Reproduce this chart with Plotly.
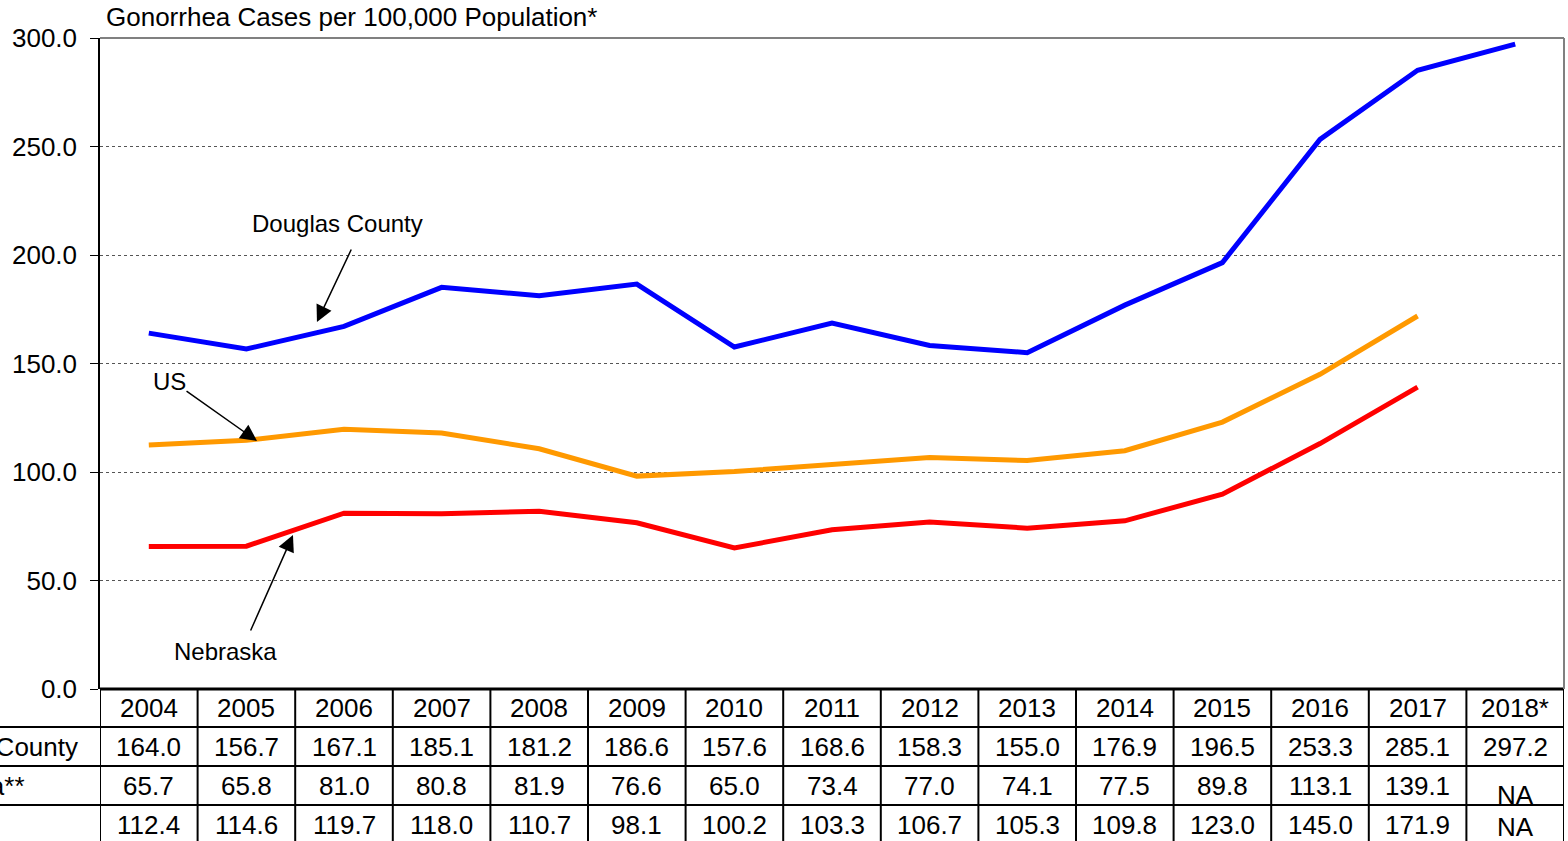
import plotly.graph_objects as go

# données
years = ["2004", "2005", "2006", "2007", "2008", "2009", "2010", "2011",
         "2012", "2013", "2014", "2015", "2016", "2017", "2018*"]
douglas = [164.0, 156.7, 167.1, 185.1, 181.2, 186.6, 157.6, 168.6,
           158.3, 155.0, 176.9, 196.5, 253.3, 285.1, 297.2]
nebraska = [65.7, 65.8, 81.0, 80.8, 81.9, 76.6, 65.0, 73.4,
            77.0, 74.1, 77.5, 89.8, 113.1, 139.1, None]
us = [112.4, 114.6, 119.7, 118.0, 110.7, 98.1, 100.2, 103.3,
      106.7, 105.3, 109.8, 123.0, 145.0, 171.9, None]
row_labels = ["Douglas County", "Nebraska**", "US"]

FONT = "Arial, Liberation Sans, sans-serif"
W, H = 1568, 841
L, R, T, B = 100, 4, 38, 152
PW = W - L - R
PH = H - T - B  # hauteur de la zone de tracé


def py(p):
    # pixel vertical -> coordonnée paper
    return (H - B - p) / PH


xs = list(range(len(years)))

fig = go.Figure()

for name, vals, col in [("Douglas County", douglas, "#0000FF"),
                        ("Nebraska", nebraska, "#FF0000"),
                        ("US", us, "#FF9900")]:
    fig.add_trace(go.Scatter(
        x=xs, y=vals, mode="lines", name=name,
        line=dict(color=col, width=5), connectgaps=False,
        showlegend=False
    ))

# -----------------------------------------------------------
# tableau sous le graphique
# -----------------------------------------------------------
row_y = [708, 747, 786, 825]
lines_y = [727, 766, 805]
shapes = []
shapes.append(dict(type="line", xref="paper", yref="paper", x0=0, x1=1,
                   y0=0, y1=0, line=dict(color="black", width=3)))
for ly in lines_y:
    shapes.append(dict(type="line", xref="paper", yref="paper",
                       x0=-L / PW, x1=1, y0=py(ly), y1=py(ly),
                       line=dict(color="black", width=2)))
for i in range(len(years) + 1):
    shapes.append(dict(type="line", xref="x", yref="paper",
                       x0=i - 0.5, x1=i - 0.5, y0=0, y1=py(H + 5),
                       line=dict(color="black", width=2)))
# cadre gris de la zone de tracé
shapes.append(dict(type="line", xref="paper", yref="paper", x0=0, x1=1,
                   y0=1, y1=1, line=dict(color="#808080", width=2)))
shapes.append(dict(type="line", xref="paper", yref="paper", x0=1, x1=1,
                   y0=0, y1=1, line=dict(color="#808080", width=2)))

ann = []
for i, yr in enumerate(years):
    ann.append(dict(x=i, y=py(row_y[0]), xref="x", yref="paper", text=yr,
                    yanchor="middle", showarrow=False, font=dict(size=26)))
    for r, vals in enumerate([douglas, nebraska, us]):
        v = vals[i]
        txt = "NA" if v is None else f"{v:.1f}"
        yy = row_y[r + 1] + (9 if v is None and r == 1 else 2 if v is None else 0)
        ann.append(dict(x=i, y=py(yy), xref="x", yref="paper", text=txt,
                        yanchor="middle", showarrow=False, font=dict(size=26)))

for r, lab in enumerate(row_labels):
    ann.append(dict(x=(-109 - L) / PW, y=py(row_y[r + 1]),
                    xref="paper", yref="paper", text=lab, xanchor="left",
                    yanchor="middle", showarrow=False, font=dict(size=26)))

# titre
ann.append(dict(x=4 / PW, y=py(17), xref="paper", yref="paper",
                text="Gonorrhea Cases per 100,000 Population*",
                xanchor="left", yanchor="middle", showarrow=False,
                font=dict(size=26)))

# étiquettes + flèches (flèche séparée du texte)
arrow = dict(showarrow=True, arrowhead=2, arrowsize=2.2, arrowwidth=1.5,
             arrowcolor="black", xref="x", yref="y",
             axref="pixel", ayref="pixel", text="")
label = dict(showarrow=False, font=dict(size=24), xref="x", yref="y",
             yanchor="middle")
ann.append(dict(arrow, x=1.723, y=169.1, ax=35, ay=-74))
ann.append(dict(label, x=1.93, y=214.7, text="Douglas County"))
ann.append(dict(arrow, x=1.109, y=114.3, ax=-72, ay=-51))
ann.append(dict(label, x=0.21, y=141.9, text="US"))
ann.append(dict(arrow, x=1.477, y=71.0, ax=-43, ay=97))
ann.append(dict(label, x=0.79, y=17.5, text="Nebraska"))

fig.update_layout(
    width=W, height=H,
    margin=dict(l=L, r=R, t=T, b=B),
    plot_bgcolor="white", paper_bgcolor="white",
    font=dict(family=FONT, color="black", size=26),
    shapes=shapes, annotations=ann,
    xaxis=dict(range=[-0.5, 14.5], showticklabels=False,
               showgrid=False, zeroline=False, ticks=""),
    yaxis=dict(range=[0, 300], tickvals=[0, 50, 100, 150, 200, 250, 300],
               tickformat=".1f", showgrid=True, gridcolor="#555555",
               griddash="dot", gridwidth=1, zeroline=False,
               showline=True, linecolor="black", linewidth=1.5,
               ticks="outside", ticklen=8, tickcolor="black",
               ticklabelstandoff=8, tickfont=dict(size=26)),
)

# pas de marge autour du graphique dans la page
fig.write_html("out.html", config={"displayModeBar": False},
               post_script="document.body.style.margin='0';")
